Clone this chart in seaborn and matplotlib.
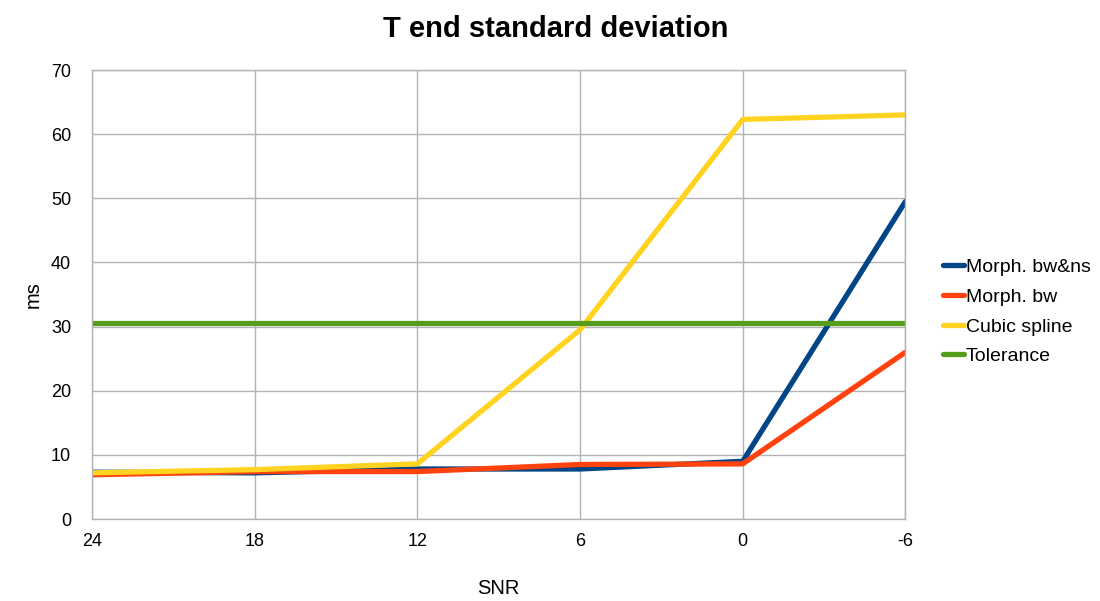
import matplotlib
matplotlib.use("Agg")
import matplotlib.pyplot as plt
import seaborn as sns
import pandas as pd

snr_labels = ["24", "18", "12", "6", "0", "-6"]
morph_bw_ns = [7.3, 7.2, 7.8, 7.8, 9.0, 49.5]
morph_bw = [6.9, 7.4, 7.4, 8.5, 8.6, 26.0]
cubic_spline = [7.2, 7.7, 8.6, 29.5, 62.3, 63.0]
tolerance = [30.5, 30.5, 30.5, 30.5, 30.5, 30.5]

series_names = ["Morph. bw&ns", "Morph. bw", "Cubic spline", "Tolerance"]
series_values = [morph_bw_ns, morph_bw, cubic_spline, tolerance]
colors = ["#004586", "#ff420e", "#ffd320", "#579d1c"]

rows = []
for name, vals in zip(series_names, series_values):
    for i, v in enumerate(vals):
        rows.append({"pos": i, "SNR": snr_labels[i], "value": v, "series": name})
df = pd.DataFrame(rows)

sns.set_theme(style="white")
plt.rcParams["font.family"] = ["Liberation Sans", "DejaVu Sans"]
plt.rcParams["text.color"] = "#000000"
plt.rcParams["axes.labelcolor"] = "#000000"

fig = plt.figure(figsize=(11.0, 6.01), dpi=100)
ax = fig.add_axes([0.0836, 0.1364, 0.7395, 0.7471])

sns.lineplot(data=df, x="pos", y="value", hue="series", hue_order=series_names,
             palette=colors, linewidth=3.8, ax=ax, legend=False)

ax.set_xlim(0, 5)
ax.set_ylim(0, 70)
ax.set_xticks(range(len(snr_labels)))
ax.set_xticklabels(snr_labels)
ax.set_yticks(range(0, 71, 10))

grid_c = "#b3b3b3"
ax.grid(True, color=grid_c, linewidth=1.0)
ax.set_axisbelow(True)
for s in ax.spines.values():
    s.set_color(grid_c)
    s.set_linewidth(1.0)
ax.tick_params(axis="both", labelcolor="#000000", labelsize=13, length=6,
               width=1.0, color=grid_c, direction="out")
ax.tick_params(axis="y", pad=9)
ax.tick_params(axis="x", pad=4)

ax.set_xlabel("SNR", fontsize=14.5, labelpad=21)
ax.set_ylabel("ms", fontsize=14.5, labelpad=6)
fig.text(0.505, 0.952, "T end standard deviation", ha="center", va="center",
         fontsize=21, fontweight="bold", color="#000000")

handles = [plt.Line2D([0], [0], color=c, linewidth=3.8) for c in colors]
fig.legend(handles, series_names, loc="center left",
           bbox_to_anchor=(0.857, 0.481), frameon=False, fontsize=14,
           handlelength=1.1, handletextpad=0.1, labelspacing=0.62,
           borderaxespad=0, borderpad=0)

fig.savefig("out.png", dpi=100)
